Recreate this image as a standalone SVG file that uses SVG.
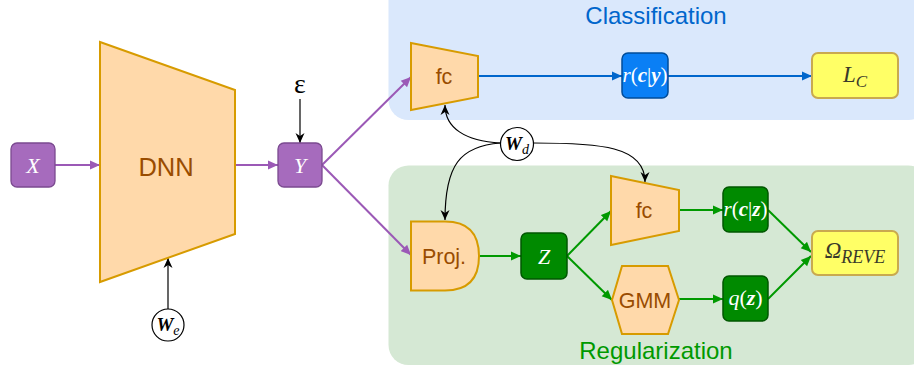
<svg xmlns="http://www.w3.org/2000/svg" width="914" height="369" viewBox="0 0 914 369">
<style>
.sans{font-family:"Liberation Sans",Arial,Helvetica,sans-serif;text-anchor:middle}
.org{fill:#994c00;font-size:21.5px}
.math{font-family:"Liberation Serif","Times New Roman",serif;font-style:italic;text-anchor:middle}
.wh{fill:#ffffff}
.dk{fill:#3a3a2a}
.b{font-weight:bold}
.up{font-style:normal}
.shape{fill:#ffd9aa;stroke:#d79b00;stroke-width:2}
.pbox{fill:#a66bbd;stroke:#7b4a90;stroke-width:1.3}
.gbox{fill:#008a00;stroke:#005700;stroke-width:1.5}
.bbox{fill:#0a7ff5;stroke:#004c99;stroke-width:1.5}
.ybox{fill:#ffff66;stroke:#c9a94f;stroke-width:2}
.circ{fill:#ffffff;stroke:#000000;stroke-width:1.2}
.ep{stroke:#9b59b6;stroke-width:2;fill:none;marker-end:url(#mp)}
.eb{stroke:#0066cc;stroke-width:2;fill:none;marker-end:url(#mb)}
.eg{stroke:#009900;stroke-width:2;fill:none;marker-end:url(#mg)}
.ek{stroke:#000000;stroke-width:1.2;fill:none;marker-end:url(#mk)}
</style>
<defs>
<marker id="mp" markerUnits="userSpaceOnUse" markerWidth="11" markerHeight="10" refX="10" refY="5" orient="auto"><path d="M0,0.5 L10,5 L0,9.5 z" fill="#9b59b6"/></marker>
<marker id="mb" markerUnits="userSpaceOnUse" markerWidth="11" markerHeight="10" refX="10" refY="5" orient="auto"><path d="M0,0.5 L10,5 L0,9.5 z" fill="#0066cc"/></marker>
<marker id="mg" markerUnits="userSpaceOnUse" markerWidth="11" markerHeight="10" refX="10" refY="5" orient="auto"><path d="M0,0.5 L10,5 L0,9.5 z" fill="#009900"/></marker>
<marker id="mk" markerUnits="userSpaceOnUse" markerWidth="11" markerHeight="10" refX="10" refY="5" orient="auto"><path d="M0,0.5 L10,5 L0,9.5 L3,5 z" fill="#000000"/></marker>
</defs>

<g id="region-classification">
<rect x="388.5" y="-25" width="540" height="145" rx="20" fill="#dae8fc"/>
<text class="sans" x="656" y="24" font-size="24" fill="#0066cc">Classification</text>
</g>
<g id="region-regularization">
<rect x="388.5" y="165.5" width="540" height="199.5" rx="20" fill="#d5e8d4"/>
<text class="sans" x="656" y="359" font-size="24" fill="#009900">Regularization</text>
</g>

<g id="connectors">
<line class="ep" x1="55" y1="165" x2="100" y2="165"/>
<line class="ep" x1="235" y1="165" x2="278" y2="165"/>
<line class="ep" x1="322" y1="165" x2="411" y2="77"/>
<line class="ep" x1="322" y1="165" x2="411" y2="255"/>
<line class="ek" x1="300" y1="99" x2="300" y2="143"/>
<line class="ek" x1="168" y1="309" x2="168" y2="258"/>
<line class="eb" x1="478" y1="76" x2="622" y2="76"/>
<line class="eb" x1="668" y1="76" x2="812" y2="76"/>
<line class="eg" x1="479" y1="256" x2="521" y2="256"/>
<line class="eg" x1="567" y1="256" x2="611" y2="211"/>
<line class="eg" x1="567" y1="256" x2="612" y2="300"/>
<line class="eg" x1="679" y1="210" x2="723" y2="210"/>
<line class="eg" x1="679" y1="299" x2="723" y2="299"/>
<line class="eg" x1="768" y1="210" x2="811" y2="252"/>
<line class="eg" x1="768" y1="299" x2="811" y2="256"/>
<path class="ek" d="M500.5,143 C465,141 445,128 445,105"/>
<path class="ek" d="M500.5,143 C460,146 445,165 445,220"/>
<path class="ek" d="M533.5,143 C600,143 645,146 645,182"/>
</g>

<g id="node-X">
<rect class="pbox" x="11" y="143" width="44" height="44" rx="6"/>
<text class="math wh" x="33" y="173" font-size="22">X</text>
</g>
<g id="node-DNN">
<polygon class="shape" points="100,42 235,90 235,234 100,282"/>
<text class="sans" x="166" y="176" font-size="25.5" fill="#994c00">DNN</text>
</g>
<g id="node-Y">
<rect class="pbox" x="278" y="143" width="44" height="44" rx="6"/>
<text class="math wh" x="300" y="173" font-size="22">Y</text>
</g>
<g id="node-eps">
<text class="math up" x="300" y="93" font-size="28" fill="#000">ε</text>
</g>
<g id="node-We">
<circle class="circ" cx="168" cy="325" r="16"/>
<text class="math" x="168" y="331" font-size="19" fill="#000"><tspan class="b">W</tspan><tspan font-size="14" dy="4">e</tspan></text>
</g>
<g id="node-fc-top">
<polygon class="shape" points="411,43 478,56 478,97 411,110"/>
<text class="sans org" x="444" y="84">fc</text>
</g>
<g id="node-rcy">
<rect class="bbox" x="622" y="53" width="46" height="45" rx="6"/>
<text class="math wh" x="645" y="82" font-size="21">r<tspan class="up">(</tspan><tspan class="b">c</tspan><tspan class="up">|</tspan><tspan class="b">y</tspan><tspan class="up">)</tspan></text>
</g>
<g id="node-LC">
<rect class="ybox" x="812" y="53" width="86" height="45" rx="6"/>
<text class="math dk" x="855" y="82" font-size="23">L<tspan font-size="17" dy="5">C</tspan></text>
</g>
<g id="node-Wd">
<circle class="circ" cx="517" cy="144" r="16.5"/>
<text class="math" x="517" y="150" font-size="19" fill="#000"><tspan class="b">W</tspan><tspan font-size="14" dy="4">d</tspan></text>
</g>
<g id="node-proj">
<path class="shape" d="M411,221.5 H445 Q479,221.5 479,256 Q479,290.5 445,290.5 H411 Z"/>
<text class="sans org" x="444" y="263.5">Proj.</text>
</g>
<g id="node-Z">
<rect class="gbox" x="521" y="233" width="46" height="46" rx="6"/>
<text class="math wh" x="544" y="264" font-size="22">Z</text>
</g>
<g id="node-fc-low">
<polygon class="shape" points="611,176 679,190 679,231 611,245"/>
<text class="sans org" x="644" y="218">fc</text>
</g>
<g id="node-GMM">
<polygon class="shape" points="612,300 622,266 668,266 679,300 668,334 622,334"/>
<text class="sans org" x="645" y="307.5">GMM</text>
</g>
<g id="node-rcz">
<rect class="gbox" x="723" y="187" width="45" height="45" rx="6"/>
<text class="math wh" x="745.5" y="216" font-size="21">r<tspan class="up">(</tspan><tspan class="b">c</tspan><tspan class="up">|</tspan><tspan class="b">z</tspan><tspan class="up">)</tspan></text>
</g>
<g id="node-qz">
<rect class="gbox" x="723" y="276" width="45" height="45" rx="6"/>
<text class="math wh" x="745.5" y="305" font-size="22">q<tspan class="up">(</tspan><tspan class="b">z</tspan><tspan class="up">)</tspan></text>
</g>
<g id="node-omega">
<rect class="ybox" x="812" y="231" width="86" height="44" rx="6"/>
<text class="math dk" x="855" y="258" font-size="23">Ω<tspan font-size="18" dy="5">REVE</tspan></text>
</g>
</svg>
